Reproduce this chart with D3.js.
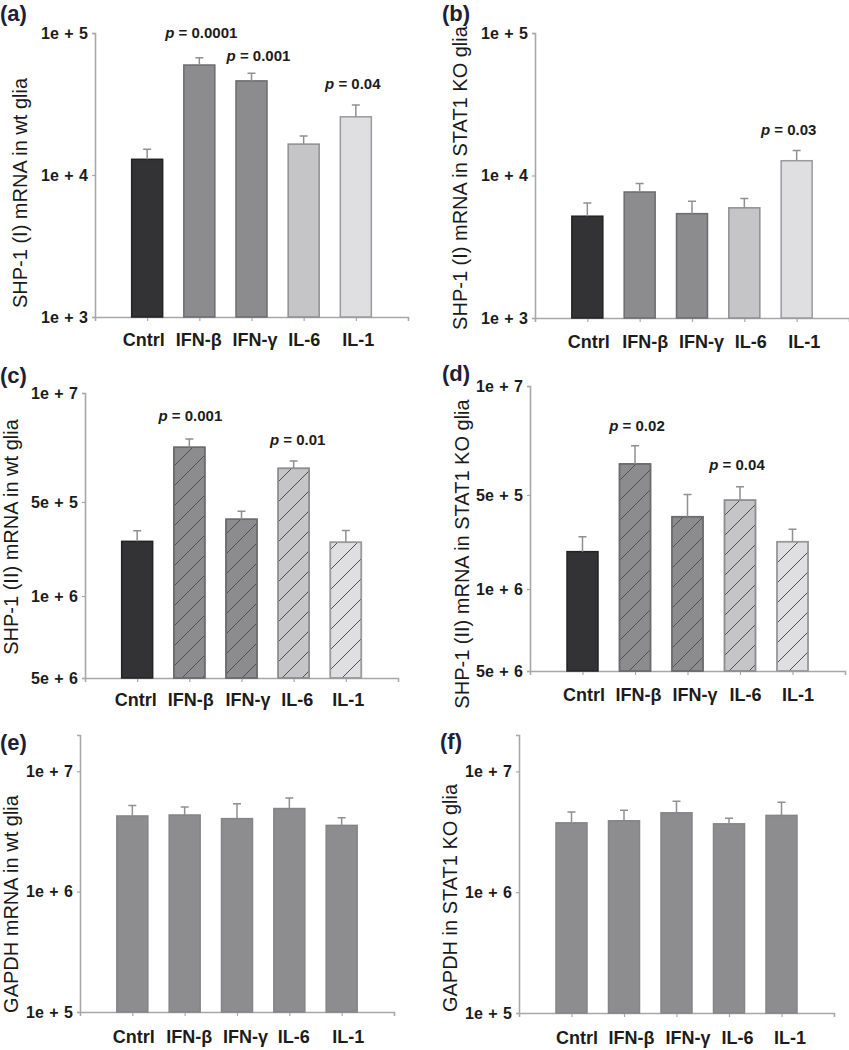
<!DOCTYPE html>
<html>
<head>
<meta charset="utf-8">
<script src="https://cdn.jsdelivr.net/npm/d3@7"></script>
<style>
body{margin:0;background:#fff}
svg{display:block;font-family:"Liberation Sans",Arial,Helvetica,sans-serif}
</style>
</head>
<body>
<div id="chart"></div>
<script>
// treatments
var categories = ["Cntrl", "IFN-β", "IFN-γ", "IL-6", "IL-1"];

// (a) SHP-1 (I), wt glia
var shp1IWt = [12900, 59500, 46000, 16500, 25700];
var shp1IWtErr = [2300, 7500, 6000, 2300, 5400];
// (b) SHP-1 (I), STAT1 KO glia
var shp1IKo = [5180, 7660, 5400, 5930, 12700];
var shp1IKoErr = [1220, 1140, 1200, 970, 2300];
// (c) SHP-1 (II), wt glia
var shp1IIWt = [910000, 4160000, 1300000, 2960000, 896000];
var shp1IIWtErr = [170000, 600000, 180000, 370000, 190000];
// (d) SHP-1 (II), STAT1 KO glia
var shp1IIKo = [688000, 2840000, 1210000, 1580000, 808000];
var shp1IIKoErr = [188000, 970000, 520000, 380000, 179000];
// (e) GAPDH, wt glia
var gapdhWt = [4250000, 4330000, 4040000, 4900000, 3550000];
var gapdhWtErr = [950000, 710000, 1330000, 1100000, 550000];
// (f) GAPDH, STAT1 KO glia
var gapdhKo = [3750000, 3900000, 4540000, 3680000, 4320000];
var gapdhKoErr = [850000, 870000, 1120000, 420000, 1240000];

// tick values and the labels printed on them
var ticksI = [1e3, 1e4, 1e5];
var tickLabelsI = ["1e + 3", "1e + 4", "1e + 5"];
var ticksII = [1e5, 3.76e5, 1.72e6, 1e7];
var tickLabelsII = ["5e + 6", "1e + 6", "5e + 5", "1e + 7"];
var ticksG = [1e5, 1e6, 1e7];
var tickLabelsG = ["1e + 5", "1e + 6", "1e + 7"];

// p values
var pA = [["IFN-β", "0.0001"], ["IFN-γ", "0.001"], ["IL-1", "0.04"]];
var pB = [["IL-1", "0.03"]];
var pC = [["IFN-β", "0.001"], ["IL-6", "0.01"]];
var pD = [["IFN-β", "0.02"], ["IL-6", "0.04"]];

var shades = ["#333335", "#8c8c8f", "#8c8c8f", "#c5c5c7", "#dfdfe1"];
var strokes = ["#232325", "#6c6c6e", "#6c6c6e", "#8e8e90", "#9a9a9c"];

var panels = [
	{letter:"(a)", lx:0, ly:21, x0:95, x1:408, yTop:33, yBot:317, dom:[1e3,1e5], ticks:ticksI, tickLabels:tickLabelsI,
	 means:shp1IWt, errs:shp1IWtErr, title:"SHP-1 (I) mRNA in wt glia", tx:20, ty:193, gap:16, ldx:[-4,-1,3,0,2],
	 pv:pA, pOff:[[2,20],[7,12],[-3,16]]},
	{letter:"(b)", lx:442, ly:21, x0:535, x1:849, yTop:33, yBot:318, dom:[1e3,1e5], ticks:ticksI, tickLabels:tickLabelsI,
	 means:shp1IKo, errs:shp1IKoErr, title:"SHP-1 (I) mRNA in STAT1 KO glia", tx:460, ty:178, gap:17, ldx:[1,5,9,6,7],
	 pv:pB, pOff:[[-8,15]]},
	{letter:"(c)", lx:0, ly:383, x0:85, x1:398, yTop:393, yBot:678, dom:[1e5,1e7], ticks:ticksII, tickLabels:tickLabelsII,
	 means:shp1IIWt, errs:shp1IIWtErr, title:"SHP-1 (II) mRNA in wt glia", tx:11, ty:537, gap:15, hatch:true, ldx:[-2,1,6,3,2],
	 pv:pC, pOff:[[1,18],[4,16]]},
	{letter:"(d)", lx:442, ly:381, x0:530, x1:845, yTop:386, yBot:671, dom:[1e5,1e7], ticks:ticksII, tickLabels:tickLabelsII,
	 means:shp1IIKo, errs:shp1IIKoErr, title:"SHP-1 (II) mRNA in STAT1 KO glia", tx:462, ty:554, gap:17, hatch:true, ldx:[1,3,7,5,5],
	 pv:pD, pOff:[[2,15],[-3,17]]},
	{letter:"(e)", lx:0, ly:750, x0:80, x1:394, yTop:735, yBot:1012, dom:[1e5,2e7], ticks:ticksG, tickLabels:tickLabelsG,
	 means:gapdhWt, errs:gapdhWtErr, title:"GAPDH mRNA in wt glia", tx:11, ty:904, gap:18, flat:true, ldx:[1,4,8,4,6], pv:[], pOff:[]},
	{letter:"(f)", lx:440, ly:749, x0:519, x1:834, yTop:735, yBot:1013, dom:[1e5,2e7], ticks:ticksG, tickLabels:tickLabelsG,
	 means:gapdhKo, errs:gapdhKoErr, title:"GAPDH in STAT1 KO glia", tx:450, ty:898, gap:18, flat:true, ldx:[5,7,11,8,8], pv:[], pOff:[]}
];

var svg = d3.select("#chart").append("svg")
	.attr("width", 849)
	.attr("height", 1050);

var defs = svg.append("defs");
defs.append("pattern")
	.attr("id", "hatch")
	.attr("patternUnits", "userSpaceOnUse")
	.attr("width", 20)
	.attr("height", 20)
	.append("path")
	.attr("d", "M0,20 L20,0 M-5,5 L5,-5 M15,25 L25,15")
	.attr("stroke", "#505052")
	.attr("stroke-width", 1);

panels.forEach(function(p){
	var g = svg.append("g");

	var x = d3.scalePoint()
		.domain(categories)
		.range([p.x0, p.x1])
		.padding(1);
	var y = d3.scaleLog()
		.domain(p.dom)
		.range([p.yBot, p.yTop]);
	var bw = 31;

	// axes
	var yAxis = g.append("g")
		.attr("transform", "translate(" + p.x0 + ",0)")
		.call(d3.axisLeft(y).tickValues(p.ticks).tickSizeOuter(0).tickSize(3)
			.tickFormat(function(d, i){ return p.tickLabels[i]; }));
	yAxis.selectAll("text")
		.attr("x", -7)
		.attr("font-size", 16)
		.attr("font-weight", "bold")
		.attr("word-spacing", "1px")
		.attr("fill", "#1c1c1c");

	var xAxis = g.append("g")
		.attr("transform", "translate(0," + p.yBot + ")")
		.call(d3.axisBottom(x).tickSizeOuter(0).tickSize(4));
	xAxis.selectAll("text")
		.attr("y", p.gap)
		.attr("dx", function(d, i){ return p.ldx[i]; })
		.attr("font-size", 18)
		.attr("font-weight", "bold")
		.attr("fill", "#1c1c1c");

	[yAxis, xAxis].forEach(function(a){
		a.select(".domain").attr("stroke", "#a8a8aa").attr("stroke-width", 1.6);
		a.selectAll(".tick line").attr("stroke", "#a8a8aa").attr("stroke-width", 1.2);
	});

	// bars
	var bars = g.selectAll(".bar").data(p.means).enter().append("g");
	bars.append("rect")
		.attr("x", function(d, i){ return x(categories[i]) - bw / 2; })
		.attr("y", function(d){ return y(d); })
		.attr("width", bw)
		.attr("height", function(d){ return p.yBot - y(d); })
		.attr("fill", function(d, i){ return p.flat ? "#8d8d90" : shades[i]; })
		.attr("stroke", function(d, i){ return p.flat ? "#858588" : strokes[i]; })
		.attr("stroke-width", 1.5);
	if(p.hatch){
		bars.filter(function(d, i){ return i > 0; })
			.append("rect")
			.attr("x", function(d){ return x(categories[p.means.indexOf(d)]) - bw / 2; })
			.attr("y", function(d){ return y(d); })
			.attr("width", bw)
			.attr("height", function(d){ return p.yBot - y(d); })
			.attr("fill", "url(#hatch)")
			.attr("stroke", function(d){ return strokes[p.means.indexOf(d)]; })
			.attr("stroke-width", 1.5);
	}

	// error bars
	bars.append("path")
		.attr("d", function(d, i){
			var cx = x(categories[i]);
			var top = y(d + p.errs[i]);
			return "M" + cx + "," + y(d) + "V" + top + "M" + (cx - 4) + "," + top + "H" + (cx + 4);
		})
		.attr("fill", "none")
		.attr("stroke", "#909092")
		.attr("stroke-width", 1.5);

	// p values
	p.pv.forEach(function(pv, k){
		var i = categories.indexOf(pv[0]);
		var t = g.append("text")
			.attr("x", x(pv[0]) + p.pOff[k][0])
			.attr("y", y(p.means[i] + p.errs[i]) - p.pOff[k][1])
			.attr("text-anchor", "middle")
			.attr("font-size", 15)
			.attr("font-weight", "bold")
			.attr("fill", "#1c1c1c");
		t.append("tspan").attr("font-style", "italic").text("p");
		t.append("tspan").text(" = " + pv[1]);
	});

	// y title
	g.append("text")
		.attr("transform", "translate(" + p.tx + "," + p.ty + ") rotate(-90)")
		.attr("text-anchor", "middle")
		.attr("dominant-baseline", "central")
		.attr("font-size", 20)
		.attr("fill", "#1a1a1a")
		.text(p.title);

	// panel letter
	g.append("text")
		.attr("x", p.lx)
		.attr("y", p.ly)
		.attr("font-size", 22)
		.attr("font-weight", "bold")
		.attr("fill", "#1e1e36")
		.text(p.letter);
});
</script>
</body>
</html>
